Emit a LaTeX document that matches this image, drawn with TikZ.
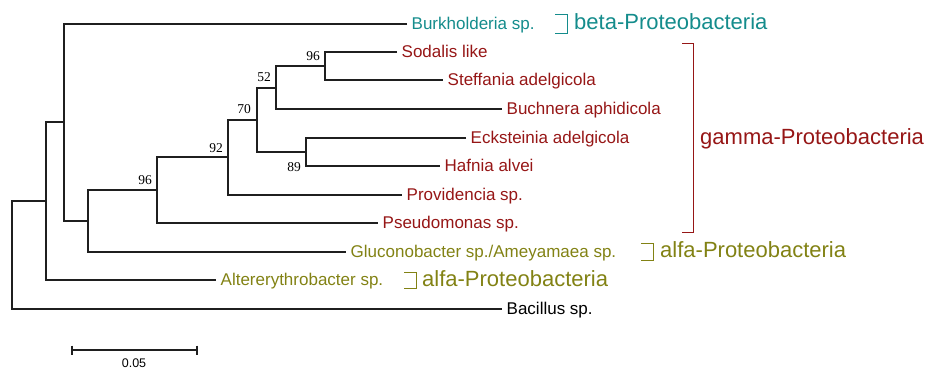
\documentclass[tikz,border=0pt]{standalone}
\usepackage{fontspec}
\setmainfont{Liberation Sans}
\newfontfamily\bootfont{Liberation Serif}
\definecolor{betac}{RGB}{20,140,140}
\definecolor{gammac}{RGB}{150,22,22}
\definecolor{alfac}{RGB}{130,130,20}
\begin{document}
\begin{tikzpicture}[x=1pt,y=-1pt,
  branch/.style={draw=black!88,line width=1.1pt},
  leaf/.style={anchor=west,inner xsep=4.5pt,inner ysep=0pt,
    font=\fontsize{17}{19}\selectfont,text height=10.6pt,text depth=0pt},
  group/.style={anchor=west,inner sep=0pt,
    font=\fontsize{22}{24}\selectfont,text height=15.4pt,text depth=0pt},
  boot/.style={anchor=base east,inner sep=0pt,font=\bootfont\fontsize{13.5}{15}\selectfont},
  bracket/.style={line width=0.9pt}]
\useasboundingbox (0,0) rectangle (928,370);

% leaves (west anchor = end of the branch)
\node[leaf,text=betac]  (burk) at (407,24)  {Burkholderia sp.};
\node[leaf,text=gammac] (sod)  at (397,52)  {Sodalis like};
\node[leaf,text=gammac] (stef) at (443,80)  {Steffania adelgicola};
\node[leaf,text=gammac] (buch) at (502,109) {Buchnera aphidicola};
\node[leaf,text=gammac] (eck)  at (466,138) {Ecksteinia adelgicola};
\node[leaf,text=gammac] (haf)  at (440,166) {Hafnia alvei};
\node[leaf,text=gammac] (prov) at (402,195) {Providencia sp.};
\node[leaf,text=gammac] (pseu) at (378,223) {Pseudomonas sp.};
\node[leaf,text=alfac]  (glu)  at (346,252) {Gluconobacter sp./Ameyamaea sp.};
\node[leaf,text=alfac]  (alt)  at (216,280) {Altererythrobacter sp.};
\node[leaf,text=black]  (bac)  at (502,309) {Bacillus sp.};

% internal nodes
\coordinate (n96a) at (325,66);
\coordinate (n52)  at (276,88);
\coordinate (n89)  at (306,152);
\coordinate (n70)  at (257,120);
\coordinate (n92)  at (228,157);
\coordinate (n96b) at (157,190);
\coordinate (nG)   at (88,221);
\coordinate (nB)   at (64,122);
\coordinate (nA)   at (46,201);
\coordinate (root) at (12,255);

% branches
\draw[branch] (sod.west) -| (n96a) |- (stef.west);
\draw[branch] (n96a) -| (n52) |- (buch.west);
\draw[branch] (eck.west) -| (n89) |- (haf.west);
\draw[branch] (n52) -| (n70) |- (n89);
\draw[branch] (n70) -| (n92) |- (prov.west);
\draw[branch] (n92) -| (n96b) |- (pseu.west);
\draw[branch] (n96b) -| (nG) |- (glu.west);
\draw[branch] (burk.west) -| (nB) |- (nG);
\draw[branch] (nB) -| (nA) |- (alt.west);
\draw[branch] (nA) -| (root) |- (bac.west);

% bootstrap values
\node[boot] at ([shift={(-5pt,6pt)}]n96a) {96};
\node[boot] at ([shift={(-5pt,7pt)}]n52)  {52};
\node[boot] at ([shift={(-6pt,7pt)}]n70)  {70};
\node[boot] at ([shift={(-5pt,5pt)}]n92)  {92};
\node[boot] at ([shift={(-5pt,6pt)}]n96b) {96};
\node[boot] at ([shift={(-5pt,-19pt)}]n89) {89};

% group brackets and names
\draw[bracket,betac] (555,14) -| (567,33) -- (555,33);
\node[group,text=betac] (gbeta) at (574,21.6) {beta-Proteobacteria};
\draw[bracket,gammac] (682,43) -| (693,232) -- (682,232);
\node[group,text=gammac] (ggamma) at (700,136.3) {gamma-Proteobacteria};
\draw[bracket,alfac] (641,243) -| (653,260) -- (641,260);
\node[group,text=alfac] (galfa1) at (660,250) {alfa-Proteobacteria};
\draw[bracket,alfac] (404,272) -| (416,288) -- (404,288);
\node[group,text=alfac] (galfa2) at (422,279) {alfa-Proteobacteria};

% scale bar
\coordinate (sbl) at (72,350);
\coordinate (sbr) at (197,350);
\draw[branch] (sbl) -- (sbr);
\draw[branch] ([yshift=4.5pt]sbl) -- ([yshift=-4.5pt]sbl);
\draw[branch] ([yshift=4.5pt]sbr) -- ([yshift=-4.5pt]sbr);
\node[inner sep=0pt,font=\fontsize{12.5}{14}\selectfont] (sblab) at (134,363) {0.05};
\end{tikzpicture}
\end{document}
